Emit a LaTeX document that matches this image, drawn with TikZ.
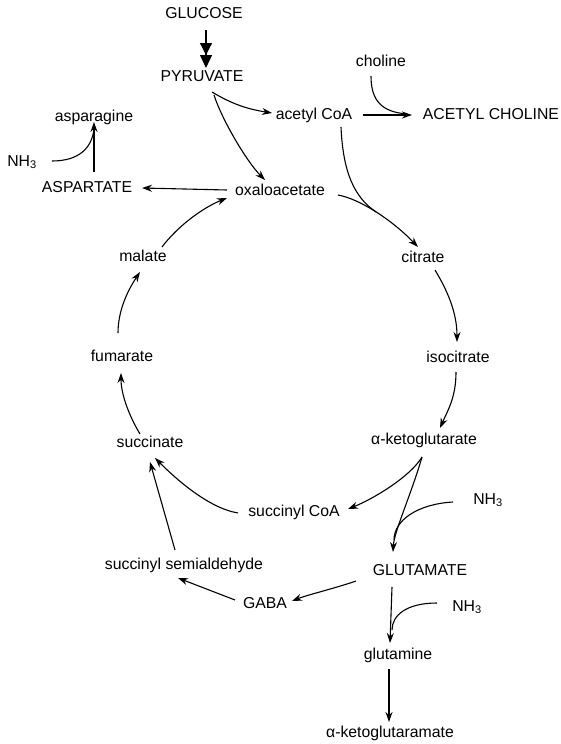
\documentclass[tikz,border=0pt]{standalone}
\usepackage{fontspec}
\setmainfont{Liberation Sans}
\usetikzlibrary{arrows.meta}
\begin{document}
\begin{tikzpicture}[x=1pt,y=-1pt,
  lbl/.style={inner sep=0pt, text height=11pt, text depth=3pt, font=\fontsize{15.8}{18}\selectfont},
  arr/.style={line width=1.1pt, -{Stealth[length=10pt,width=7pt]}},
  ln/.style={line width=1.1pt}]
\useasboundingbox (0,0) rectangle (560,744);
% nodes
\node[lbl] (glucose) at (204,14) {GLUCOSE};
\node[lbl] (pyruvate) at (202,77) {PYRUVATE};
\node[lbl] (acetylcoa) at (314,115) {acetyl CoA};
\node[lbl] (choline) at (381,62) {choline};
\node[lbl] (achol) at (491,115) {ACETYL CHOLINE};
\node[lbl] (asparagine) at (94,117) {asparagine};
\node[lbl] (nhA) at (22,162) {NH\textsubscript{3}};
\node[lbl] (aspartate) at (87,188) {ASPARTATE};
\node[lbl] (oxalo) at (280,191) {oxaloacetate};
\node[lbl] (malate) at (143,257) {malate};
\node[lbl] (citrate) at (423,258) {citrate};
\node[lbl] (fumarate) at (122,357) {fumarate};
\node[lbl] (isocitrate) at (458,358) {isocitrate};
\node[lbl] (succinate) at (150,443) {succinate};
\node[lbl] (akg) at (424,440) {α-ketoglutarate};
\node[lbl] (nhB) at (488,500) {NH\textsubscript{3}};
\node[lbl] (succoa) at (294,512) {succinyl CoA};
\node[lbl] (ssa) at (184,565) {succinyl semialdehyde};
\node[lbl] (glutamate) at (420,571) {GLUTAMATE};
\node[lbl] (gaba) at (265,604) {GABA};
\node[lbl] (nhC) at (467,607) {NH\textsubscript{3}};
\node[lbl] (glutamine) at (398,655) {glutamine};
\node[lbl] (akgm) at (390,733) {α-ketoglutaramate};
% connectors
\draw[line width=1.2pt, -{Triangle[length=12pt,width=12pt]Triangle[length=13pt,width=12pt]}] ([shift={(2,16)}]glucose.center) -- ([shift={(4,-9)}]pyruvate.center);
\draw[arr] ([shift={(10,15)}]pyruvate.center) .. controls +(20,12) and +(-25,-4) .. ([shift={(-42,-2)}]acetylcoa.center);
\draw[arr] ([shift={(12,18)}]pyruvate.center) .. controls +(8,25) and +(-18,-18) .. ([shift={(-15,-11)}]oxalo.center);
\draw[ln] ([shift={(-10,14)}]choline.center) .. controls +(0,25) and +(-25,-2) .. ([shift={(-84,-1)}]achol.center);
\draw[arr] ([shift={(49,0)}]acetylcoa.center) -- ([shift={(-79,0)}]achol.center);
\draw[ln] ([shift={(27,12)}]acetylcoa.center) .. controls +(2,45) and +(-22,-15) .. ([shift={(-47,-46)}]citrate.center);
\draw[arr] ([shift={(58,4)}]oxalo.center) .. controls +(22,4) and +(-26,-27) .. ([shift={(-5,-11)}]citrate.center);
\draw[arr] ([shift={(12,12)}]citrate.center) .. controls +(12,20) and +(0,-30) .. ([shift={(-1,-16)}]isocitrate.center);
\draw[arr] ([shift={(-2,14)}]isocitrate.center) .. controls +(0,25) and +(8,-18) .. ([shift={(16,-12)}]akg.center);
\draw[arr] ([shift={(-2,17)}]akg.center) .. controls +(-12,20) and +(25,-10) .. ([shift={(54,-3)}]succoa.center);
\draw[arr] ([shift={(-2,17)}]akg.center) .. controls +(-10,35) and +(1,-20) .. ([shift={(-27,-19)}]glutamate.center);
\draw[ln] ([shift={(-35,2)}]nhB.center) .. controls +(-35,2) and +(0,-20) .. ([shift={(-26,-31)}]glutamate.center);
\draw[arr] ([shift={(-64,10)}]glutamate.center) .. controls +(-20,7) and +(15,-6) .. ([shift={(27,-3)}]gaba.center);
\draw[arr] ([shift={(-30,-4)}]gaba.center) -- ([shift={(-6,13)}]ssa.center);
\draw[arr] ([shift={(-9,-15)}]ssa.center) -- ([shift={(0,19)}]succinate.center);
\draw[arr] ([shift={(-56,1)}]succoa.center) .. controls +(-30,-5) and +(20,20) .. ([shift={(5,15)}]succinate.center);
\draw[arr] ([shift={(-10,-9)}]succinate.center) .. controls +(-12,-20) and +(0,20) .. ([shift={(-1,16)}]fumarate.center);
\draw[arr] ([shift={(-4,-24)}]fumarate.center) .. controls +(0,-25) and +(-10,15) .. ([shift={(-3,15)}]malate.center);
\draw[arr] ([shift={(19,-10)}]malate.center) .. controls +(15,-20) and +(-25,10) .. ([shift={(-53,7)}]oxalo.center);
\draw[arr] ([shift={(-53,-1)}]oxalo.center) -- ([shift={(55,0)}]aspartate.center);
\draw[arr] ([shift={(7,-16)}]aspartate.center) -- ([shift={(0,5)}]asparagine.center);
\draw[ln] ([shift={(30,-1)}]nhA.center) .. controls +(28,0) and +(-2,18) .. ([shift={(0,12)}]asparagine.center);
\draw[arr] ([shift={(-28,16)}]glutamate.center) -- ([shift={(-8,-12)}]glutamine.center);
\draw[ln] ([shift={(-30,-4)}]nhC.center) .. controls +(-30,0) and +(0,-15) .. ([shift={(-6,-25)}]glutamine.center);
\draw[arr] ([shift={(-9,14)}]glutamine.center) -- ([shift={(-1,-11)}]akgm.center);
\end{tikzpicture}
\end{document}
